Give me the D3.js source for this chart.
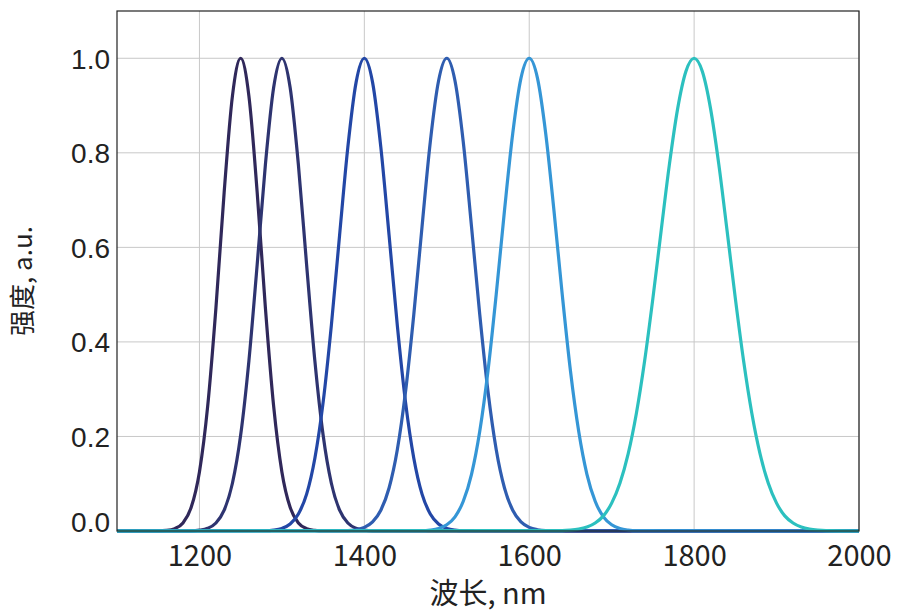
<!DOCTYPE html>
<html>
<head>
<meta charset="utf-8">
<script src="https://cdn.jsdelivr.net/npm/d3@7"></script>
<style>
  body { margin: 0; background: #fff; }
  #chart text { fill: #222; }
</style>
</head>
<body>
<div id="chart"></div>
<script>
// peak wavelengths (nm) and line colours
var peaks = [1250, 1300, 1400, 1500, 1600, 1800];
var colors = ["#30285a", "#2e3470", "#2347a6", "#2f5db0", "#3596d6", "#2cc0bf"];

// spectra: wavelength (nm) / intensity (a.u.)
var wl1250 = [1100, 1150, 1160, 1170, 1180, 1190, 1200, 1210, 1220, 1230, 1240, 1250, 1260, 1270, 1280, 1290, 1300, 1310, 1320, 1330, 1340, 1350, 2000];
var in1250 = [0, 0.0002, 0.0012, 0.005, 0.017, 0.05, 0.125, 0.264, 0.472, 0.717, 0.92, 1, 0.92, 0.717, 0.472, 0.264, 0.125, 0.05, 0.017, 0.005, 0.0012, 0, 0];

var wl1300 = [1100, 1190, 1200, 1210, 1220, 1230, 1240, 1250, 1260, 1270, 1280, 1290, 1300, 1310, 1320, 1330, 1340, 1350, 1360, 1370, 1380, 1390, 1400, 1410, 2000];
var in1300 = [0, 0.0004, 0.0017, 0.0057, 0.017, 0.044, 0.101, 0.203, 0.36, 0.563, 0.775, 0.938, 1, 0.938, 0.775, 0.563, 0.36, 0.203, 0.101, 0.044, 0.017, 0.0057, 0.0017, 0.0004, 0];

var wl1400 = [1100, 1280, 1290, 1300, 1310, 1320, 1330, 1340, 1350, 1360, 1370, 1380, 1390, 1400, 1410, 1420, 1430, 1440, 1450, 1460, 1470, 1480, 1490, 1500, 1510, 1520, 2000];
var in1400 = [0, 0.0006, 0.0018, 0.0055, 0.0148, 0.036, 0.078, 0.154, 0.272, 0.435, 0.626, 0.812, 0.949, 1, 0.949, 0.812, 0.626, 0.435, 0.272, 0.154, 0.078, 0.036, 0.0148, 0.0055, 0.0018, 0.0006, 0];

var wl1500 = [1100, 1380, 1390, 1400, 1410, 1420, 1430, 1440, 1450, 1460, 1470, 1480, 1490, 1500, 1510, 1520, 1530, 1540, 1550, 1560, 1570, 1580, 1590, 1600, 1610, 1620, 2000];
var in1500 = [0, 0.0009, 0.0027, 0.0076, 0.0192, 0.044, 0.091, 0.172, 0.295, 0.458, 0.644, 0.823, 0.952, 1, 0.952, 0.823, 0.644, 0.458, 0.295, 0.172, 0.091, 0.044, 0.0192, 0.0076, 0.0027, 0.0009, 0];

var wl1600 = [1100, 1470, 1480, 1490, 1500, 1510, 1520, 1530, 1540, 1550, 1560, 1570, 1580, 1590, 1600, 1610, 1620, 1630, 1640, 1650, 1660, 1670, 1680, 1690, 1700, 1710, 1720, 1730, 2000];
var in1600 = [0, 0.0007, 0.002, 0.0053, 0.0132, 0.03, 0.063, 0.12, 0.211, 0.339, 0.501, 0.678, 0.841, 0.958, 1, 0.958, 0.841, 0.678, 0.501, 0.339, 0.211, 0.12, 0.063, 0.03, 0.0132, 0.0053, 0.002, 0.0007, 0];

var wl1800 = [1100, 1640, 1650, 1660, 1670, 1680, 1690, 1700, 1710, 1720, 1730, 1740, 1750, 1760, 1770, 1780, 1790, 1800, 1810, 1820, 1830, 1840, 1850, 1860, 1870, 1880, 1890, 1900, 1910, 1920, 1930, 1940, 1950, 1960, 2000];
var in1800 = [0, 0.0007, 0.0017, 0.0039, 0.0083, 0.0169, 0.032, 0.059, 0.101, 0.163, 0.249, 0.36, 0.492, 0.635, 0.775, 0.893, 0.972, 1, 0.972, 0.893, 0.775, 0.635, 0.492, 0.36, 0.249, 0.163, 0.101, 0.059, 0.032, 0.0169, 0.0083, 0.0039, 0.0017, 0.0007, 0];

var wavelengths = [wl1250, wl1300, wl1400, wl1500, wl1600, wl1800];
var intensities = [in1250, in1300, in1400, in1500, in1600, in1800];

var xTicks = [1200, 1400, 1600, 1800, 2000];
var yTicks = [0, 0.2, 0.4, 0.6, 0.8, 1.0];
var xTitle = "波长, nm";
var yTitle = "强度, a.u.";

var W = 904, H = 614;
var margin = { top: 11, right: 45, bottom: 83, left: 117 },
    width = W - margin.left - margin.right,
    height = H - margin.top - margin.bottom;

var svg = d3.select("#chart")
    .append("svg")
    .attr("width", W)
    .attr("height", H);

var g = svg.append("g")
    .attr("transform", "translate(" + margin.left + "," + margin.top + ")");

var x = d3.scaleLinear().domain([1100, 2000]).range([0, width]);
var y = d3.scaleLinear().domain([0, 1.1]).range([height, 0]);

// grid
g.append("g")
    .selectAll("line.vg")
    .data(xTicks)
    .enter()
    .append("line")
    .attr("x1", function (d) { return x(d); })
    .attr("x2", function (d) { return x(d); })
    .attr("y1", 0)
    .attr("y2", height)
    .attr("stroke", "#c8c8c8")
    .attr("stroke-width", 1);

g.append("g")
    .selectAll("line.hg")
    .data(yTicks.filter(function (d) { return d > 0; }))
    .enter()
    .append("line")
    .attr("x1", 0)
    .attr("x2", width)
    .attr("y1", function (d) { return y(d); })
    .attr("y2", function (d) { return y(d); })
    .attr("stroke", "#c8c8c8")
    .attr("stroke-width", 1);

// axes (labels only, frame drawn separately)
var xAxis = g.append("g")
    .attr("transform", "translate(0," + height + ")")
    .call(d3.axisBottom(x).tickValues(xTicks).tickSize(0).tickPadding(16).tickFormat(d3.format("d")));
xAxis.select(".domain").remove();
xAxis.selectAll("text")
    .style("font-family", "'Noto Sans CJK SC', sans-serif")
    .style("font-size", "29px")
    .attr("dy", "0.66em");

var yAxis = g.append("g")
    .call(d3.axisLeft(y).tickValues(yTicks).tickSize(0).tickPadding(7).tickFormat(d3.format(".1f")));
yAxis.select(".domain").remove();
yAxis.selectAll("text")
    .style("font-family", "'Liberation Sans', Arial, sans-serif")
    .style("font-size", "28px")
    .attr("dy", function (d) { return d === 0 ? "0.02em" : "0.35em"; });

// curves
var line = d3.line()
    .x(function (d) { return x(d[0]); })
    .y(function (d) { return y(d[1]); })
    .curve(d3.curveMonotoneX);

for (var i = 0; i < peaks.length; i++) {
    var pts = wavelengths[i].map(function (w, j) { return [w, intensities[i][j]]; });
    g.append("path")
        .datum(pts)
        .attr("fill", "none")
        .attr("stroke", colors[i])
        .attr("stroke-width", 3.2)
        .attr("stroke-linejoin", "round")
        .attr("d", line);
}

// frame
g.append("rect")
    .attr("x", 0)
    .attr("y", 0)
    .attr("width", width)
    .attr("height", height)
    .attr("fill", "none")
    .attr("stroke", "#222")
    .attr("stroke-width", 1.2);

// titles
svg.append("text")
    .attr("x", margin.left + width / 2)
    .attr("y", 604)
    .attr("text-anchor", "middle")
    .style("font-family", "'Noto Sans CJK SC', sans-serif")
    .style("font-size", "29px")
    .text(xTitle);

svg.append("text")
    .attr("transform", "translate(32," + (margin.top + height / 2 + 10) + ") rotate(-90)")
    .attr("text-anchor", "middle")
    .style("font-family", "'Noto Sans CJK SC', sans-serif")
    .style("font-size", "26px")
    .text(yTitle);
</script>
</body>
</html>
